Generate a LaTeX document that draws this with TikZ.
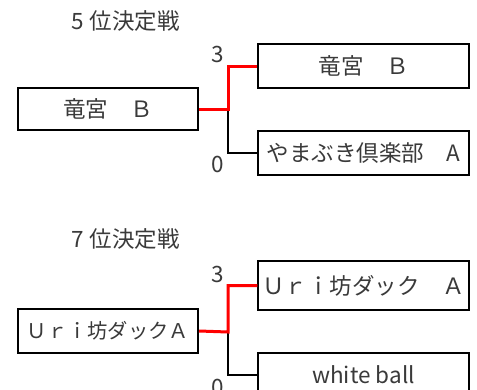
\documentclass[tikz,border=0pt]{standalone}
\usepackage{fontspec}
\setmainfont{Noto Sans CJK JP}
\definecolor{txt}{HTML}{3A3A3A}
\definecolor{winred}{HTML}{FF0000}
\begin{document}
\begin{tikzpicture}[x=1pt,y=-1pt,
  every node/.style={font=\fontsize{22.5}{26}\selectfont, text=txt, inner sep=0pt},
  lbox/.style={draw=black, line width=2pt, minimum width=180pt},
  rbox/.style={draw=black, line width=1.5pt, minimum width=211pt},
  win/.style={draw=winred, line width=3pt},
  lose/.style={draw=black, line width=2pt},
  score/.style={},
  title/.style={anchor=west}]
\useasboundingbox (0,0) rectangle (477,389);
\fill[white] (0,0) rectangle (477,389);

% ---- 5th place match
\node[title] (t1) at (71,21) {5\hspace{6pt}位決定戦};
\node[lbox, minimum height=42pt] (l1) at (108,109) {竜宮　Ｂ};
\node[rbox, minimum height=44pt] (r1) at (363.5,66) {竜宮　Ｂ};
\node[rbox, minimum height=44pt] (r2) at (363.5,153) {やまぶき倶楽部　A};
\coordinate (j1) at (228,109);
\draw[lose] (j1) |- (r2.west);
\draw[win] (l1.east) -- (j1) |- (r1.west);
\node[score] (s1) at (218,54) {3};
\node[score] (s2) at (218,164) {0};

% ---- 7th place match
\node[title] (t2) at (71,239) {7\hspace{6pt}位決定戦};
\node[lbox, minimum height=44pt, font=\fontsize{20.3}{24}\selectfont] (l2) at (108,331) {Ｕｒｉ坊ダックＡ};
\node[rbox, minimum height=49pt] (r3) at (363.5,285.5) {Ｕｒｉ坊ダック　Ａ};
\node[rbox, minimum height=44pt] (r4) at (363.5,375) {white ball};
\coordinate (j2) at (228,332);
\draw[lose] (j2) |- (r4.west);
\draw[win] (l2.east) -- (j2) |- (r3.west);
\node[score] (s3) at (218,274) {3};
\node[score] (s4) at (218,387) {0};
\end{tikzpicture}
\end{document}
